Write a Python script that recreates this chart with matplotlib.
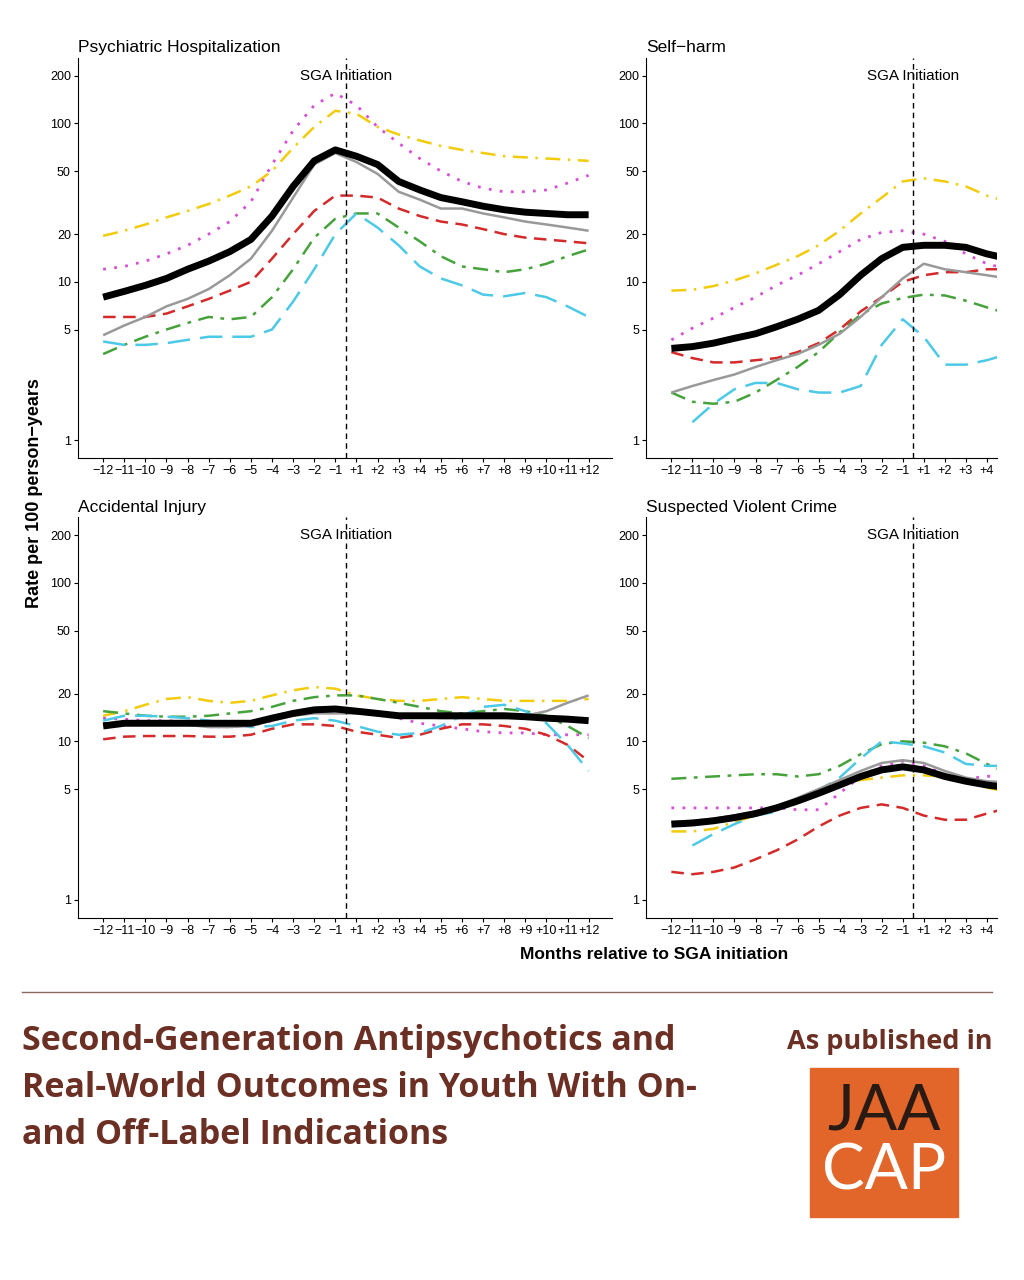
import numpy as np
import matplotlib
matplotlib.use("Agg")
import matplotlib.pyplot as plt
from matplotlib.patches import Rectangle

plt.rcParams["font.family"] = ["Liberation Sans", "DejaVu Sans"]

MONTHS = [f"{m}" for m in range(-12, 0)] + [f"+{m}" for m in range(1, 13)]
MONTHS = [m.replace("-", "\u2212") for m in MONTHS]

# Psychiatric Hospitalization (24 points)
hosp = {
    "black":   [8, 8.7, 9.5, 10.5, 12, 13.5, 15.5, 18.5, 26, 40, 58, 68, 62, 55, 43, 38, 34, 32, 30, 28.5, 27.5, 27, 26.5, 26.5],
    "gray":    [4.6, 5.3, 6, 7, 7.8, 9, 11, 14, 21, 34, 55, 65, 57, 48, 37, 33, 29, 29, 27, 25.5, 24, 23, 22, 21],
    "red":     [6, 6, 6, 6.3, 7, 7.8, 8.8, 10, 14, 20, 28, 35, 35, 34, 29, 26, 24, 23, 21.5, 20, 19, 18.5, 18, 17.5],
    "green":   [3.5, 4, 4.5, 5, 5.5, 6, 5.8, 6, 8, 12, 19, 25, 27, 27, 22, 18, 14.5, 12.5, 12, 11.5, 12, 13, 14.5, 16],
    "cyan":    [4.2, 4, 4, 4.1, 4.3, 4.5, 4.5, 4.5, 5, 7.5, 12, 20, 27, 22, 17, 12.5, 10.5, 9.5, 8.3, 8.1, 8.5, 8, 7, 6],
    "yellow":  [19.5, 21, 23, 25.5, 28, 31, 35, 40, 50, 70, 95, 120, 115, 95, 85, 78, 72, 68, 65, 62, 61, 60, 59, 58],
    "magenta": [12, 12.5, 13.5, 15, 17, 20, 24, 32, 55, 90, 130, 155, 130, 95, 75, 60, 50, 43, 39, 37, 37, 38, 42, 47],
}
# Self-harm (17 points, panel cut after +4)
selfharm = {
    "black":   [3.8, 3.9, 4.1, 4.4, 4.7, 5.2, 5.8, 6.6, 8.3, 11, 14, 16.5, 17, 17, 16.5, 15, 14],
    "gray":    [2.0, 2.2, 2.4, 2.6, 2.9, 3.2, 3.5, 4.0, 4.7, 6, 8, 10.5, 13, 12, 11.5, 11, 10.5],
    "red":     [3.6, 3.3, 3.1, 3.1, 3.2, 3.3, 3.6, 4.1, 5, 6.5, 8, 10, 11, 11.5, 11.5, 12, 12],
    "green":   [2.0, 1.75, 1.7, 1.75, 2, 2.4, 2.9, 3.6, 4.8, 6.2, 7.3, 7.9, 8.3, 8.2, 7.6, 6.9, 6.3],
    "cyan":    [np.nan, 1.3, 1.7, 2.1, 2.3, 2.3, 2.1, 2, 2, 2.2, 4, 5.8, 4.5, 3, 3, 3.2, 3.5],
    "yellow":  [8.8, 8.9, 9.4, 10.2, 11.3, 12.8, 14.5, 17, 21, 27, 34, 43, 45, 43, 40, 35, 32],
    "magenta": [4.3, 5.1, 5.9, 6.9, 8, 9.5, 11, 13, 15.5, 18.5, 20.5, 21, 20, 18, 15, 13, 12],
}
# Accidental Injury (24 points)
injury = {
    "black":   [12.5, 13, 13, 13, 13, 13, 13, 13, 14, 15, 15.8, 16, 15.5, 15, 14.5, 14.5, 14.5, 14.5, 14.5, 14.5, 14.3, 14, 13.8, 13.5],
    "gray":    [13, 13, 13, 13, 12.7, 12.3, 12.3, 12.5, 13.5, 14.5, 15, 15, 15, 14.8, 14.5, 14.3, 14, 14, 14, 14, 14.5, 15.5, 17.5, 19.5],
    "red":     [10.3, 10.7, 10.8, 10.8, 10.8, 10.7, 10.7, 11, 12, 12.8, 12.8, 12.5, 11.5, 11, 10.5, 11, 12, 12.8, 12.8, 12.5, 12, 11, 9.5, 7.5],
    "green":   [15.5, 15, 14.5, 14.3, 14.3, 14.5, 15, 15.5, 16.5, 18, 19, 19.5, 19.5, 18.5, 17.5, 16.5, 15.5, 15, 15.5, 16, 15.5, 14.5, 12.5, 10.5],
    "cyan":    [13.5, 14.5, 14.5, 14.3, 14, 13.5, 13, 12.3, 12.5, 13.5, 14, 13.5, 12.5, 11.5, 11, 11.3, 12.5, 14.5, 16.5, 17, 15.5, 13, 9.5, 6.5],
    "yellow":  [14.5, 15.5, 17, 18.5, 19, 18, 17.5, 18, 19.5, 21, 22, 21.5, 19.5, 18.5, 18, 18, 18.5, 19, 18.5, 18, 18, 18, 18, 18.5],
    "magenta": [14, 13.8, 13.5, 13.5, 13.3, 12.7, 12.3, 12.5, 13.5, 15, 15.8, 16, 15.5, 14.8, 14, 13, 12.5, 12, 11.5, 11.3, 11.3, 11, 11, 11],
}
# Suspected Violent Crime (17 points)
crime = {
    "black":   [3.0, 3.05, 3.15, 3.3, 3.5, 3.8, 4.2, 4.7, 5.3, 6.0, 6.6, 6.9, 6.6, 6.0, 5.6, 5.3, 5.1],
    "gray":    [3.1, 3.15, 3.25, 3.4, 3.6, 3.9, 4.4, 5.0, 5.7, 6.5, 7.3, 7.6, 7.3, 6.5, 5.9, 5.6, 5.5],
    "red":     [1.5, 1.45, 1.5, 1.6, 1.8, 2.05, 2.4, 2.9, 3.4, 3.8, 4.0, 3.8, 3.4, 3.2, 3.2, 3.5, 3.8],
    "green":   [5.8, 5.9, 6.0, 6.1, 6.2, 6.2, 6.0, 6.2, 7.0, 8.3, 9.6, 10, 9.8, 9.3, 8.4, 7.2, 6.3],
    "cyan":    [np.nan, 2.2, 2.6, 3.0, 3.4, 3.6, 4.2, 4.9, 5.9, 7.8, 10, 9.7, 9.3, 8.5, 7.2, 7.0, 7.0],
    "yellow":  [2.7, 2.7, 2.8, 3.1, 3.4, 3.7, 4.1, 4.6, 5.3, 5.7, 5.9, 6.1, 6.1, 6.0, 5.6, 5.1, 4.8],
    "magenta": [3.8, 3.8, 3.8, 3.8, 3.8, 3.8, 3.7, 3.7, 4.7, 6.0, 7.0, 7.5, 7.0, 6.2, 5.8, 6.0, 6.2],
}

STYLES = {
    "yellow":  dict(color="#f2cc0c", lw=1.8, ls=(0, (6, 3, 1, 3))),
    "magenta": dict(color="#d64fd6", lw=2.0, ls=(0, (1, 3))),
    "green":   dict(color="#46a23b", lw=1.8, ls=(0, (6, 3, 1.5, 3))),
    "red":     dict(color="#d42a2a", lw=1.8, ls=(0, (5, 3))),
    "cyan":    dict(color="#4cc9e6", lw=1.8, ls=(0, (9, 4))),
    "gray":    dict(color="#999999", lw=1.8, ls="-"),
    "black":   dict(color="black", lw=5.0, ls="-"),
}
ORDER = ["yellow", "magenta", "green", "red", "cyan", "gray", "black"]
YTICKS = [1, 5, 10, 20, 50, 100, 200]

fig = plt.figure(figsize=(10.24, 12.8), dpi=100)
panels = [
    ("Psychiatric Hospitalization", hosp, [0.076, 0.642, 0.5215, 0.313], 24.1),
    ("Self\u2212harm", selfharm, [0.631, 0.642, 0.343, 0.313], 15.5),
    ("Accidental Injury", injury, [0.076, 0.283, 0.5215, 0.313], 24.1),
    ("Suspected Violent Crime", crime, [0.631, 0.283, 0.343, 0.313], 15.5),
]
for title, data, rect, xmax in panels:
    ax = fig.add_axes(rect)
    for key in ORDER:
        y = data[key]
        ax.plot(np.arange(len(y)), y, solid_capstyle="butt", **STYLES[key])
    ax.set_yscale("log")
    ax.set_yticks(YTICKS)
    ax.set_yticklabels([str(t) for t in YTICKS])
    ax.minorticks_off()
    ax.set_xticks(range(24))
    ax.set_xticklabels(MONTHS)
    ax.set_ylim(0.77, 260)
    ax.set_xlim(-1.2, xmax)
    ax.tick_params(labelsize=9, length=3, pad=2)
    ax.spines["top"].set_visible(False)
    ax.spines["right"].set_visible(False)
    ax.axvline(11.5, color="black", lw=1.0, ls=(0, (4, 3)))
    ax.text(11.5, 200, "SGA Initiation", ha="center", va="center", fontsize=11)
    ax.set_title(title, loc="left", fontsize=12.5, pad=4, x=0.0)

fig.text(0.034, 0.615, "Rate per 100 person\u2212years", rotation=90,
         ha="center", va="center", fontsize=13, fontweight="bold")
fig.text(0.639, 0.254, "Months relative to SGA initiation",
         ha="center", va="center", fontsize=12.5, fontweight="bold")

# footer
BROWN = "#6b2f24"
fig.add_artist(plt.Line2D([0.021, 0.969], [1 - 992 / 1280] * 2, color="#8a6a60", lw=1))
for i, line in enumerate(["Second-Generation Antipsychotics and",
                          "Real-World Outcomes in Youth With On-",
                          "and Off-Label Indications"]):
    fig.text(0.021, 1 - (1041 + 47 * i) / 1280, line, ha="left", va="center",
             fontsize=24.5, fontweight="bold", family="Open Sans", color=BROWN)
fig.text(0.969, 1 - 1042 / 1280, "As published in", ha="right", va="center",
         fontsize=19.5, fontweight="bold", family="Open Sans", color=BROWN)
fig.add_artist(Rectangle((810 / 1024, 1 - 1217 / 1280), 148 / 1024, 149 / 1280,
                         transform=fig.transFigure, color="#e2662a"))
fig.text(884 / 1024, 1 - 1112 / 1280, "JAA", ha="center", va="center",
         fontsize=46, family="Lato", color="#2a1a14")
fig.text(884 / 1024, 1 - 1172 / 1280, "CAP", ha="center", va="center",
         fontsize=46, family="Lato", color="white")

fig.savefig("out.png", dpi=100, facecolor="white")
